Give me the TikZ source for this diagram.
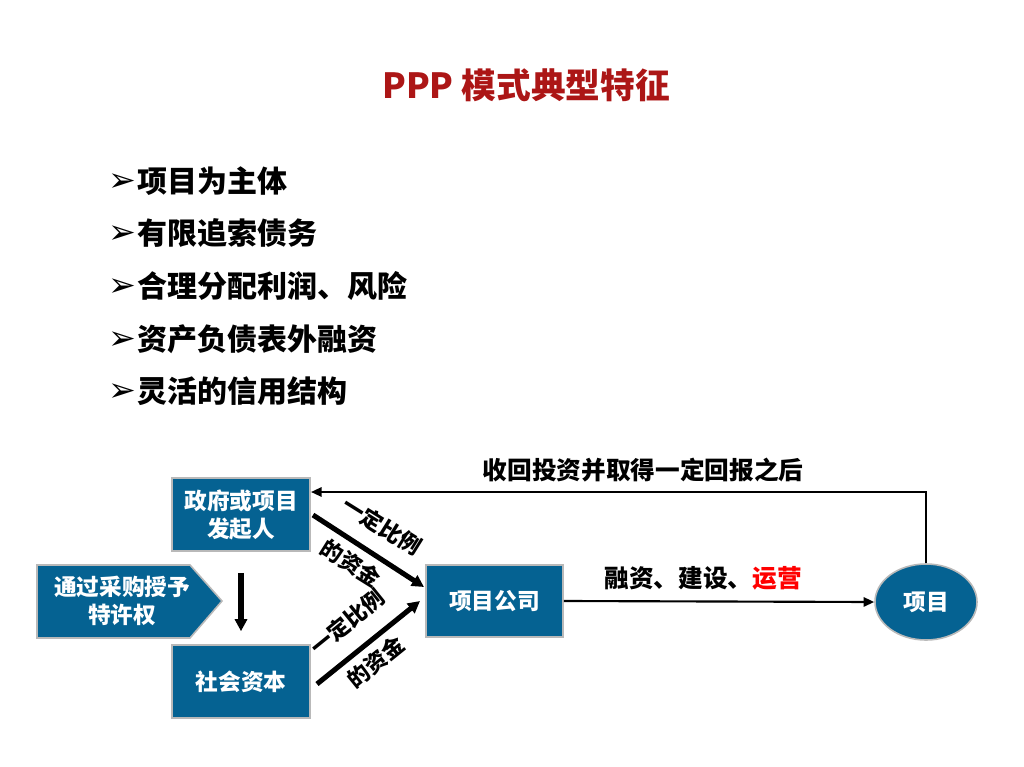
\documentclass[tikz,border=0pt]{standalone}
\usepackage{fontspec}
\setmainfont{Noto Sans CJK SC}
\newfontfamily\djfont{DejaVu Sans}
\usetikzlibrary{shapes.geometric,arrows.meta}
\definecolor{boxblue}{RGB}{5,98,146}
\definecolor{titlered}{RGB}{172,22,22}
\definecolor{runred}{RGB}{255,0,0}
\newcommand{\bul}{\raisebox{0.5pt}{\djfont\fontsize{25}{26}\selectfont ➢}\kern1pt}
\begin{document}
\begin{tikzpicture}[x=0.75pt,y=-0.75pt,
  bluebox/.style={draw=gray!55, line width=1.2pt, fill=boxblue, text=white,
    font=\bfseries\fontsize{17}{21}\selectfont, align=center,
    minimum width=103.5pt, minimum height=54.75pt, inner sep=0pt},
  bullet/.style={anchor=west, font=\bfseries\fontsize{22.5}{26}\selectfont, inner sep=0pt},
  lbl/.style={font=\bfseries\fontsize{18.5}{22}\selectfont, inner sep=0pt},
  dlbl/.style={font=\bfseries\fontsize{16.5}{20}\selectfont, inner sep=0pt},
  thick arrow/.style={line width=3.8pt, -{Triangle[length=9pt,width=9pt]}},
  thin arrow/.style={line width=1.6pt, -{Triangle[length=8pt,width=7pt]}}]
\useasboundingbox (0,0) rectangle (1024,767);

% title
\node[text=titlered, font=\bfseries\fontsize{26}{30}\selectfont] (title) at (526,85) {PPP 模式典型特征};

% bullets
\node[bullet] (b1) at (108,181) {\bul 项目为主体};
\node[bullet] (b2) at (108,233) {\bul 有限追索债务};
\node[bullet] (b3) at (108,286) {\bul 合理分配利润、风险};
\node[bullet] (b4) at (108,339) {\bul 资产负债表外融资};
\node[bullet] (b5) at (108,391) {\bul 灵活的信用结构};

% boxes
\node[bluebox] (gov) at (241,514.5) {政府或项目\\发起人};
\node[bluebox] (soc) at (241,681.5) {社会资本};
\node[bluebox, minimum width=102.75pt, minimum height=54pt] (comp) at (494.5,601) {项目公司};
\node[ellipse, draw=gray!55, line width=1.2pt, fill=boxblue, text=white,
  font=\bfseries\fontsize{17}{21}\selectfont, minimum width=76.5pt, minimum height=57pt, inner sep=0pt]
  (proj) at (926,602) {项目};

% pentagon arrow
\draw[draw=gray!55, line width=1.2pt, fill=boxblue] (37,565) -- (190,565) -- (222,601) -- (190,638) -- (37,638) -- cycle;
\node[text=white, font=\bfseries\fontsize{17}{21}\selectfont, align=center] (grant) at (122,601) {通过采购授予\\特许权};

% down arrow
\draw[thick arrow, shorten <=15.75pt, shorten >=9.75pt] (gov.south) -- (soc.north);

% diagonal arrows
\coordinate (d1s) at (313,515);
\coordinate (d1e) at (424,587);
\coordinate (d2s) at (317,684);
\coordinate (d2e) at (420,601);
\draw[thick arrow] (d1s) -- (d1e);
\draw[thick arrow] (d2s) -- (d2e);
\node[dlbl, rotate=-32] (l1a) at (382,526) {一定比例};
\node[dlbl, rotate=-32] (l1b) at (351,563) {的资金};
\node[dlbl, rotate=39] (l2a) at (347,622) {一定比例};
\node[dlbl, rotate=39] (l2b) at (376,662) {的资金};

% company to project
\draw[thin arrow] (comp.east) -- (proj.west);
\node[lbl] (run) at (703,578) {融资、建设、{\color{runred}运营}};

% return line
\coordinate (ret) at (311,492);
\draw[thin arrow] (proj.north) |- (ret);
\node[lbl] (back) at (643,470) {收回投资并取得一定回报之后};
\end{tikzpicture}
\end{document}
